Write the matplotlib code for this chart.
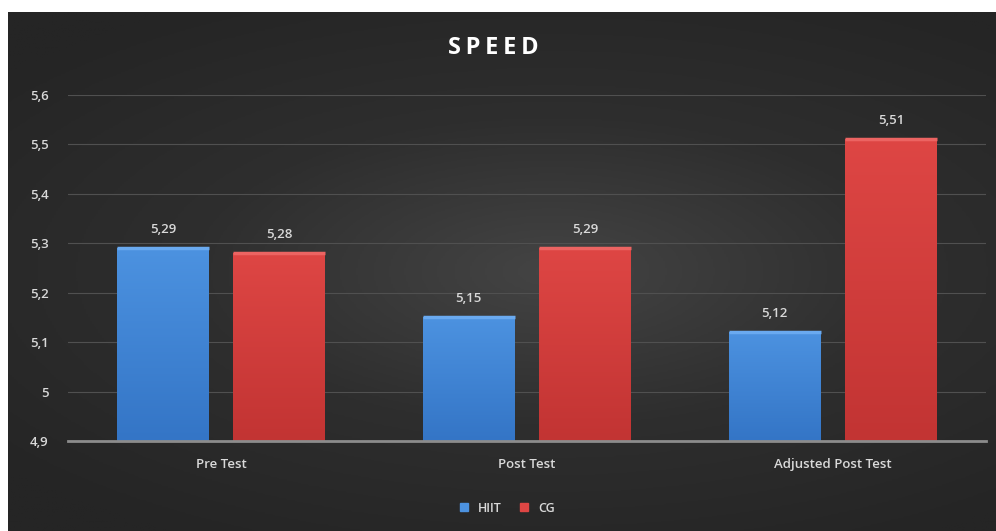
import numpy as np
import matplotlib
matplotlib.use('Agg')
import matplotlib.pyplot as plt
from matplotlib.ticker import FuncFormatter

# data
categories = ['Pre Test', 'Post Test', 'Adjusted Post Test']
hiit = [5.29, 5.15, 5.12]
cg = [5.28, 5.29, 5.51]
series_names = ['HIIT', 'CG']

blue_top, blue_bot = '#4c92e0', '#3475c6'
red_top, red_bot = '#de4644', '#c23433'
blue_edge, red_edge = '#6aaaf0', '#ec6462'

plt.rcParams['font.family'] = ['Open Sans', 'DejaVu Sans']

fig = plt.figure(figsize=(9.96, 5.31), dpi=100, facecolor='white')

# dark radial background panel
bg = fig.add_axes([8 / 996, 0, 988 / 996, 519 / 531])
yy, xx = np.mgrid[-1:1:300j, -1:1:500j]
r = np.sqrt(((xx - 0.1) * 0.9) ** 2 + (yy * 1.1) ** 2)
bg.imshow(r, cmap=matplotlib.colors.LinearSegmentedColormap.from_list(
    'bg', ['#444444', '#2e2e2e', '#252525']), aspect='auto',
    extent=[0, 1, 0, 1], vmin=0, vmax=1.3)
bg.set_axis_off()

ax = fig.add_axes([68 / 996, 90 / 531, 918 / 996, 346 / 531])
ax.patch.set_alpha(0)
x = np.arange(len(categories))
w = 0.30
off = 0.19


def grad_bars(xpos, vals, top, bot, edge):
    bars = ax.bar(xpos, [v - 4.9 for v in vals], w, bottom=4.9, color=bot, zorder=2)
    cmap = matplotlib.colors.LinearSegmentedColormap.from_list('g', [bot, top])
    for b in bars:
        x0, y0 = b.get_x(), b.get_y()
        x1, y1 = x0 + b.get_width(), y0 + b.get_height()
        im = ax.imshow(np.linspace(0, 1, 100).reshape(-1, 1), cmap=cmap, origin='lower',
                       extent=[x0, x1, y0, y1], aspect='auto', zorder=3)
        im.set_clip_path(b)
        # light edge at the top of the bar
        ax.plot([x0, x1], [y1, y1], color=edge, lw=2.5, zorder=4, solid_capstyle='butt')
    return bars


grad_bars(x - off, hiit, blue_top, blue_bot, blue_edge)
grad_bars(x + off, cg, red_top, red_bot, red_edge)

for xi, v in zip(x - off, hiit):
    ax.text(xi, v + 0.025, f'{v:.2f}'.replace('.', ','), ha='center', va='bottom',
            color='#d9d9d9', fontsize=9.5, fontweight='semibold', zorder=5)
for xi, v in zip(x + off, cg):
    ax.text(xi, v + 0.025, f'{v:.2f}'.replace('.', ','), ha='center', va='bottom',
            color='#d9d9d9', fontsize=9.5, fontweight='semibold', zorder=5)

ax.set_xlim(-0.5, 2.5)
ax.set_ylim(4.9, 5.6)
ax.set_yticks(np.arange(4.9, 5.61, 0.1))
ax.yaxis.set_major_formatter(FuncFormatter(lambda v, p: f'{v:.1f}'.rstrip('0').rstrip('.').replace('.', ',')))
ax.set_xticks(x)
ax.set_xticklabels(categories)
ax.tick_params(colors='#d9d9d9', labelsize=9.5, length=0)
ax.tick_params(axis='x', pad=12)
ax.tick_params(axis='y', pad=14)
for lab in ax.get_xticklabels() + ax.get_yticklabels():
    lab.set_fontweight('semibold')
ax.yaxis.grid(True, color='#505050', lw=0.8, zorder=0)
ax.set_axisbelow(True)
for s in ['top', 'right', 'left']:
    ax.spines[s].set_visible(False)
ax.spines['bottom'].set_color('#8c8c8c')
ax.spines['bottom'].set_linewidth(2)
ax.spines['bottom'].set_zorder(6)

fig.text(0.495, 1 - 48 / 531, '\u2009'.join('SPEED'), ha='center', va='center', color='white',
         fontsize=17, fontweight='bold')

handles = [plt.Line2D([], [], marker='s', ls='', color=blue_top, markersize=6),
           plt.Line2D([], [], marker='s', ls='', color=red_top, markersize=6)]
fig.legend(handles, series_names, loc='center', bbox_to_anchor=(0.505, 1 - 508 / 531),
           ncol=2, frameon=False, labelcolor='#d9d9d9', fontsize=9,
           handletextpad=0.1, columnspacing=0.8,
           prop={'weight': 'semibold', 'size': 9})

fig.savefig('out.png', dpi=100, facecolor='white')
